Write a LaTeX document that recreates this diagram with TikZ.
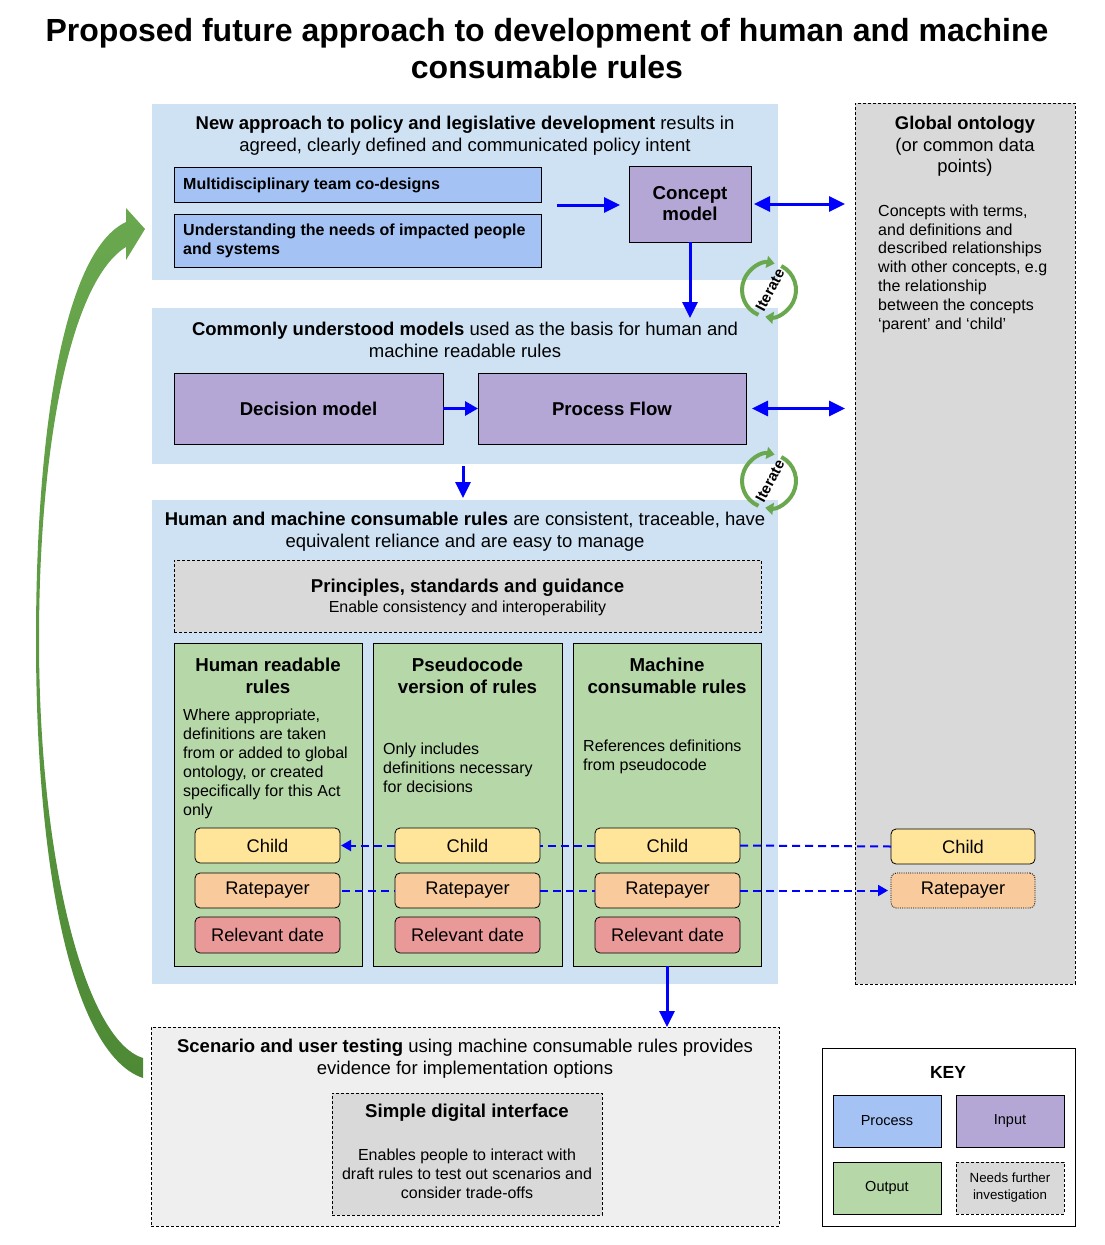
\documentclass[tikz,border=0pt]{standalone}
\usepackage{fontspec}
\setmainfont{Liberation Sans}
\usetikzlibrary{arrows.meta}
\newcommand\fsz[2]{\fontsize{#1pt}{#2pt}\selectfont}
\definecolor{lb}{HTML}{CFE2F3}
\definecolor{pblue}{HTML}{A4C2F4}
\definecolor{purp}{HTML}{B4A7D6}
\definecolor{grn}{HTML}{B6D7A8}
\definecolor{gry}{HTML}{D9D9D9}
\definecolor{lgry}{HTML}{EFEFEF}
\definecolor{yel}{HTML}{FFE599}
\definecolor{org}{HTML}{F9CB9C}
\definecolor{redc}{HTML}{EA9999}
\definecolor{ablue}{HTML}{0000FF}
\definecolor{garrow}{HTML}{6AA84F}
\definecolor{garrowd}{HTML}{4E8A35}
\tikzset{
  reg/.style={anchor=north west, inner sep=0pt, outer sep=0pt, fill=lb},
  bx/.style={anchor=north west, inner sep=0pt, outer sep=0pt, draw=black, line width=0.8pt},
  dsh/.style={dash pattern=on 3pt off 2pt},
  dtt/.style={dash pattern=on 1pt off 1.2pt},
  chip/.style={bx, rounded corners=5pt, minimum width=145pt, minimum height=35pt, font={\fsz{18.3}{21}}},
  hdr/.style={font={\fsz{18.5}{22}}, align=center},
  coltitle/.style={font={\bfseries\fsz{18.7}{22}}, align=center},
  body/.style={font={\fsz{16}{19}}, align=left, anchor=west, inner sep=0pt},
  barrow/.style={draw=ablue, line width=3pt, -{Triangle[length=16pt,width=15pt]}},
  dbarrow/.style={draw=ablue, line width=3pt, {Triangle[length=16pt,width=15pt]}-{Triangle[length=16pt,width=15pt]}},
  dblue/.style={draw=ablue, line width=2pt, dash pattern=on 8pt off 5pt},
  dbluearr/.style={dblue, -{Triangle[length=10pt,width=11pt]}},
  garc/.style={draw=garrow, line width=4pt},
  iter/.pic={
    \draw[garc, -{Triangle[length=8pt,width=12pt]}] (-247:27) arc[start angle=-247, end angle=-78, radius=27];
    \draw[garc, -{Triangle[length=8pt,width=12pt]}] (-63:27) arc[start angle=-63, end angle=98, radius=27];
    \node[rotate=62, font={\bfseries\fsz{15}{17}}, inner sep=0pt] (-t) at (1,0) {Iterate};
  }
}
\begin{document}
\begin{tikzpicture}[x=1pt,y=-1pt]
\useasboundingbox (0,0) rectangle (1105,1245);

% title
\node[font={\bfseries\fsz{32}{37}}, align=center] (title) at (547,48.5) {Proposed future approach to development of human and machine\\consumable rules};

% regions
\node[reg, minimum width=626pt, minimum height=176pt] (b1) at (152,104) {};
\node[reg, minimum width=626pt, minimum height=156pt] (b2) at (152,308) {};
\node[reg, minimum width=626pt, minimum height=484pt] (b3) at (152,500) {};
\node[bx, dsh, fill=lgry, minimum width=628pt, minimum height=199pt] (b4) at (151,1027) {};
\node[bx, dsh, fill=gry, minimum width=220pt, minimum height=881pt] (glob) at (855,103) {};

% box 1
\node[hdr] (b1h) at (465,136) {\textbf{New approach to policy and legislative development} results in\\agreed, clearly defined and communicated policy intent};
\node[bx, fill=pblue, minimum width=367pt, minimum height=35pt] (multi) at (174,167) {};
\node[body, font={\bfseries\fsz{16}{19}}] (multit) at (183,185) {Multidisciplinary team co-designs};
\node[bx, fill=pblue, minimum width=367pt, minimum height=53pt] (under) at (174,214) {};
\node[body, font={\bfseries\fsz{16}{19}}] (undert) at (183,241) {Understanding the needs of impacted people\\and systems};
\node[bx, fill=purp, minimum width=122pt, minimum height=76pt, font={\bfseries\fsz{18.7}{21}}, align=center] (concept) at (629,166) {Concept\\model};

% box 2
\node[hdr] (b2h) at (465,340) {\textbf{Commonly understood models} used as the basis for human and\\machine readable rules};
\node[bx, fill=purp, minimum width=269pt, minimum height=71pt, font={\bfseries\fsz{18.6}{21}}] (dec) at (174,373) {Decision model};
\node[bx, fill=purp, minimum width=268pt, minimum height=71pt, font={\bfseries\fsz{18.6}{21}}] (proc) at (478,373) {Process Flow};

% box 3
\node[hdr] (b3h) at (465,532) {\textbf{Human and machine consumable rules} are consistent, traceable, have\\equivalent reliance and are easy to manage};
\node[bx, dsh, fill=gry, minimum width=587pt, minimum height=72pt] (princ) at (174,560) {};
\node[font={\bfseries\fsz{18.6}{20}}] (princt) at (467.5,588) {Principles, standards and guidance};
\node[font={\fsz{16}{18}}] (princs) at (467.5,608) {Enable consistency and interoperability};

\node[bx, fill=grn, minimum width=188pt, minimum height=323pt] (col1) at (174,643) {};
\node[bx, fill=grn, minimum width=189pt, minimum height=323pt] (col2) at (373,643) {};
\node[bx, fill=grn, minimum width=188pt, minimum height=323pt] (col3) at (573,643) {};
\node[coltitle] (c1t) at (268,676) {Human readable\\rules};
\node[coltitle] (c2t) at (467.5,676) {Pseudocode\\version of rules};
\node[coltitle] (c3t) at (667,676) {Machine\\consumable rules};
\node[body] (c1b) at (183,764) {Where appropriate,\\definitions are taken\\from or added to global\\ontology, or created\\specifically for this Act\\only};
\node[body] (c2b) at (383,767.5) {Only includes\\definitions necessary\\for decisions};
\node[body] (c3b) at (583,757) {References definitions\\from pseudocode};

\node[chip, fill=yel] (c1ch) at (195,828) {Child};
\node[chip, fill=org] (c1ra) at (195,873) {Ratepayer};
\node[chip, fill=redc, minimum height=36pt] (c1rd) at (195,917) {Relevant date};
\node[chip, fill=yel] (c2ch) at (395,828) {Child};
\node[chip, fill=org] (c2ra) at (395,873) {Ratepayer};
\node[chip, fill=redc, minimum height=36pt] (c2rd) at (395,917) {Relevant date};
\node[chip, fill=yel] (c3ch) at (595,828) {Child};
\node[chip, fill=org] (c3ra) at (595,873) {Ratepayer};
\node[chip, fill=redc, minimum height=36pt] (c3rd) at (595,917) {Relevant date};

% global ontology
\node[font={\bfseries\fsz{18.4}{21}}] (gt) at (965,125) {Global ontology};
\node[font={\fsz{18.4}{21}}, align=center] (gs) at (965,157.5) {(or common data\\points)};
\node[body, font={\fsz{16}{18.8}}] (gb) at (878,268.5) {Concepts with terms,\\and definitions and\\described relationships\\with other concepts, e.g\\the relationship\\between the concepts\\‘parent’ and ‘child’};
\node[chip, fill=yel, minimum width=144pt] (gch) at (891,829) {Child};
\node[chip, fill=org, minimum width=144pt, dtt] (gra) at (891,873) {Ratepayer};

% box 4
\node[hdr] (b4h) at (465,1059) {\textbf{Scenario and user testing} using machine consumable rules provides\\evidence for implementation options};
\node[bx, dsh, fill=gry, minimum width=270pt, minimum height=122pt] (sdi) at (332,1093) {};
\node[font={\bfseries\fsz{18.6}{21}}] (sdit) at (467,1113) {Simple digital interface};
\node[font={\fsz{16}{19}}, align=center] (sdib) at (467,1174) {Enables people to interact with\\draft rules to test out scenarios and\\consider trade-offs};

% key
\node[bx, fill=white, minimum width=253pt, minimum height=178pt] (key) at (822,1048) {};
\node[font={\bfseries\fsz{17.5}{21}}] (keyt) at (948,1072) {KEY};
\node[bx, fill=pblue, minimum width=108pt, minimum height=52pt, font={\fsz{14.5}{18}}] (kproc) at (833,1095) {Process};
\node[bx, fill=purp, minimum width=108pt, minimum height=52pt, font={\fsz{14.5}{18}}] (kin) at (956,1095) {Input};
\node[bx, fill=grn, minimum width=108pt, minimum height=52pt, font={\fsz{14.5}{18}}] (kout) at (833,1162) {Output};
\node[bx, dsh, fill=gry, minimum width=108pt, minimum height=52pt, font={\fsz{13.3}{17}}, align=center] (kneed) at (956,1162) {Needs further\\investigation};

% blue arrows
\coordinate (a1s) at (557,205);
\draw[barrow, shorten >=9pt] (a1s) -- (a1s -| concept.west);
\draw[dbarrow, shorten <=3pt, shorten >=10pt] (concept.east) -- (concept.east -| glob.west);
\draw[barrow] (concept.south) -- ++(0,76);
\draw[draw=ablue, line width=3pt, -{Triangle[length=13pt,width=14pt]}] (dec.east) -- (proc.west);
\draw[dbarrow, shorten <=6pt, shorten >=10pt] (proc.east) -- (proc.east -| glob.west);
\draw[barrow, shorten <=2pt, shorten >=2pt] (b2.south -| 463,0) -- (b3.north -| 463,0);
\draw[barrow] (col3.south) -- (col3.south |- b4.north);

% dashed links
\draw[dblue] (gch.west) -- (c3ch.east);
\draw[dblue] (c3ch.west) -- (c2ch.east);
\draw[dbluearr, shorten >=1pt] (c2ch.west) -- (c1ch.east);
\draw[dblue, shorten <=2pt] (c1ra.east) -- (c2ra.west);
\draw[dblue] (c2ra.east) -- (c3ra.west);
\draw[dbluearr, shorten >=3pt] (c3ra.east) -- (gra.west);

% iterate icons
\pic (it1) at (769,290) {iter};
\pic (it2) at (769,481) {iter};

% big green loop arrow
\shade[top color=garrow, bottom color=garrowd]
  (145,229) -- (126,208) -- (126,222)
  .. controls (66,250) and (36,420) .. (36,640)
  .. controls (36,880) and (75,1055) .. (143,1078)
  -- (143,1058)
  .. controls (85,1040) and (39,860) .. (39,640)
  .. controls (39,440) and (72,280) .. (126,247)
  -- (126,260) -- cycle;
\end{tikzpicture}
\end{document}
